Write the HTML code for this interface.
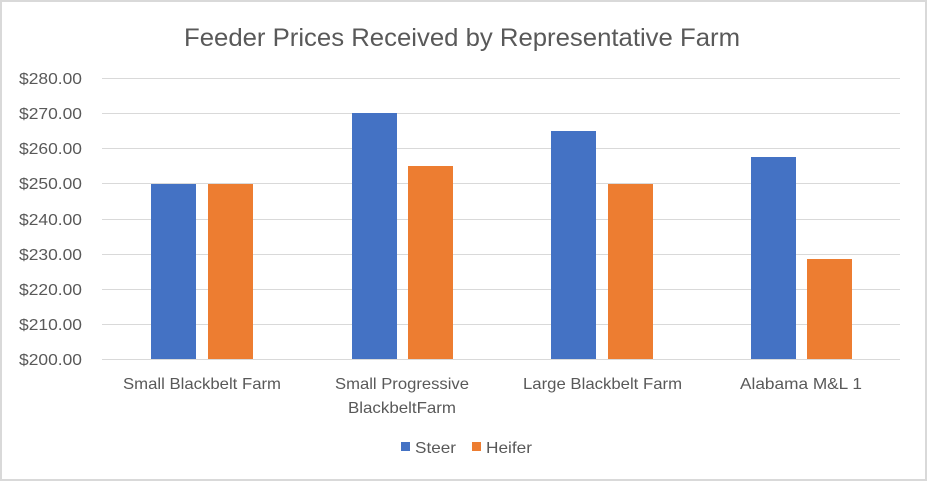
<!DOCTYPE html>
<html><head><style>
html,body{margin:0;padding:0;background:#fff;}
svg{display:block;font-family:"Liberation Sans",sans-serif;}
</style></head><body>
<svg width="927" height="481" viewBox="0 0 927 481" xmlns="http://www.w3.org/2000/svg">
<rect x="1" y="1" width="925" height="479" fill="#fff" stroke="#d9d9d9" stroke-width="2"/>
<text x="184" y="46" font-size="25" fill="#595959" textLength="556" lengthAdjust="spacingAndGlyphs">Feeder Prices Received by Representative Farm</text>
<g stroke="#d9d9d9" stroke-width="1">
<line x1="102" x2="900" y1="78.5" y2="78.5"/>
<line x1="102" x2="900" y1="113.5" y2="113.5"/>
<line x1="102" x2="900" y1="148.5" y2="148.5"/>
<line x1="102" x2="900" y1="183.5" y2="183.5"/>
<line x1="102" x2="900" y1="219.5" y2="219.5"/>
<line x1="102" x2="900" y1="254.5" y2="254.5"/>
<line x1="102" x2="900" y1="289.5" y2="289.5"/>
<line x1="102" x2="900" y1="324.5" y2="324.5"/>
<line x1="102" x2="900" y1="359.5" y2="359.5"/>
</g>
<g font-size="16" fill="#595959">
<text x="19" y="84" textLength="63" lengthAdjust="spacingAndGlyphs">$280.00</text>
<text x="19" y="119" textLength="63" lengthAdjust="spacingAndGlyphs">$270.00</text>
<text x="19" y="154" textLength="63" lengthAdjust="spacingAndGlyphs">$260.00</text>
<text x="19" y="189" textLength="63" lengthAdjust="spacingAndGlyphs">$250.00</text>
<text x="19" y="225" textLength="63" lengthAdjust="spacingAndGlyphs">$240.00</text>
<text x="19" y="260" textLength="63" lengthAdjust="spacingAndGlyphs">$230.00</text>
<text x="19" y="295" textLength="63" lengthAdjust="spacingAndGlyphs">$220.00</text>
<text x="19" y="330" textLength="63" lengthAdjust="spacingAndGlyphs">$210.00</text>
<text x="19" y="365" textLength="63" lengthAdjust="spacingAndGlyphs">$200.00</text>
</g>
<g fill="#4472c4">
<rect x="151" y="184" width="45" height="175"/>
<rect x="352" y="113" width="45" height="246"/>
<rect x="551" y="131" width="45" height="228"/>
<rect x="751" y="157" width="45" height="202"/>
</g>
<g fill="#ed7d31">
<rect x="208" y="184" width="45" height="175"/>
<rect x="408" y="166" width="45" height="193"/>
<rect x="608" y="184" width="45" height="175"/>
<rect x="807" y="259" width="45" height="100"/>
</g>
<g font-size="16" fill="#595959">
<text x="123" y="389" textLength="158" lengthAdjust="spacingAndGlyphs">Small Blackbelt Farm</text>
<text x="335" y="389" textLength="134" lengthAdjust="spacingAndGlyphs">Small Progressive</text>
<text x="348" y="413" textLength="108" lengthAdjust="spacingAndGlyphs">BlackbeltFarm</text>
<text x="523" y="389" textLength="159" lengthAdjust="spacingAndGlyphs">Large Blackbelt Farm</text>
<text x="740" y="389" textLength="122" lengthAdjust="spacingAndGlyphs">Alabama M&amp;L 1</text>
</g>
<rect x="401" y="442" width="9" height="9" fill="#4472c4"/>
<text x="415" y="453" font-size="16" fill="#595959" textLength="41" lengthAdjust="spacingAndGlyphs">Steer</text>
<rect x="472" y="442" width="9" height="9" fill="#ed7d31"/>
<text x="486" y="453" font-size="16" fill="#595959" textLength="46" lengthAdjust="spacingAndGlyphs">Heifer</text>
</svg>
</body></html>
